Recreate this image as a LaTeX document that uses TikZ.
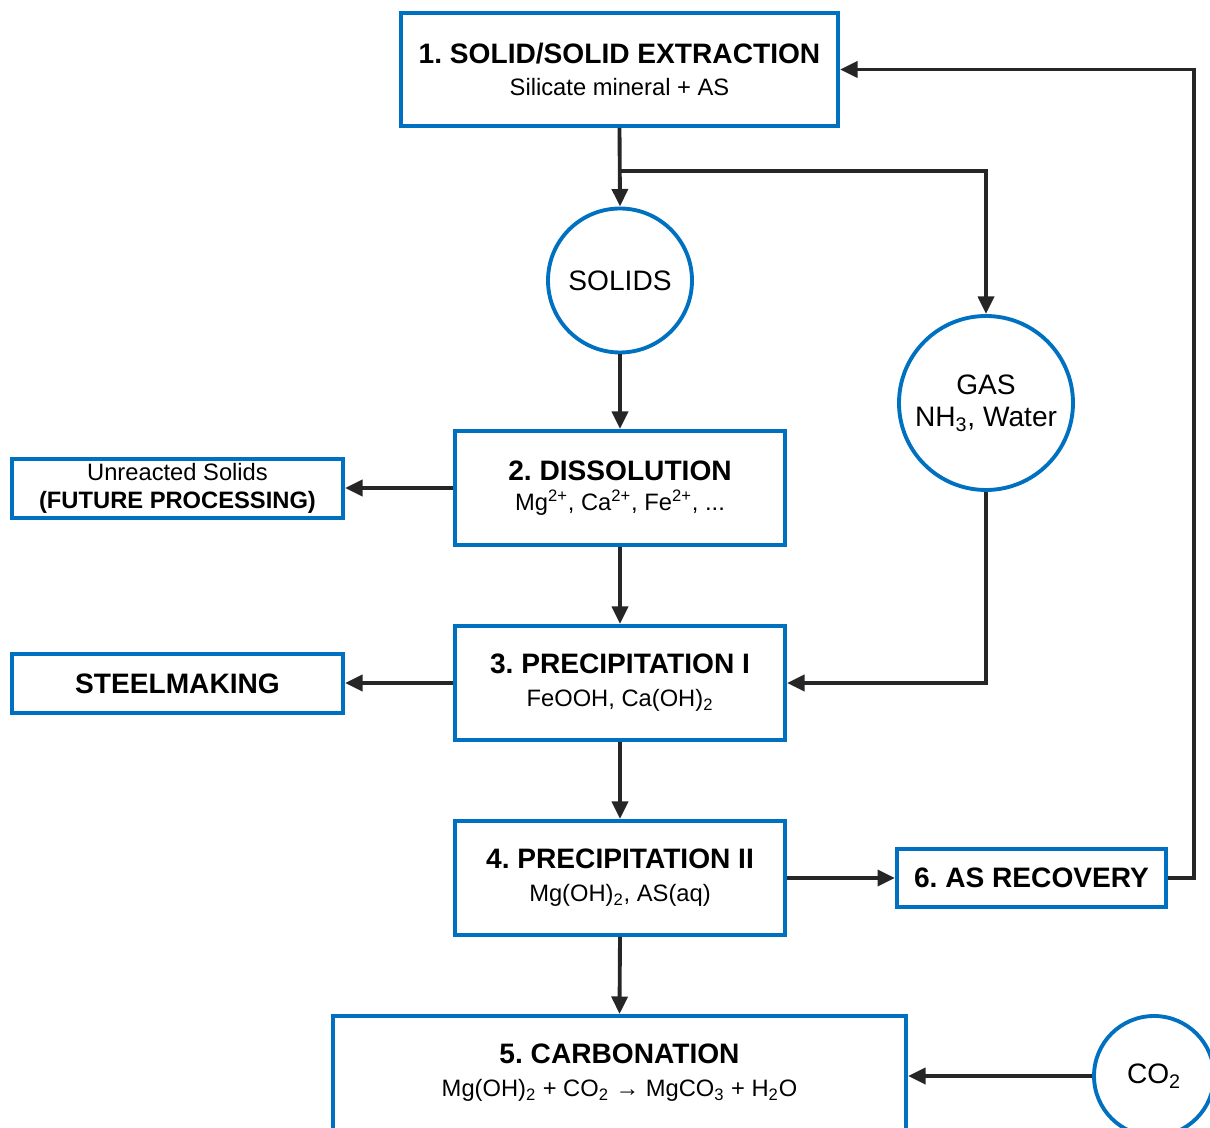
\documentclass[tikz,border=0pt]{standalone}
\usepackage{fontspec}
\setmainfont{Liberation Sans}
\usetikzlibrary{arrows.meta}
\frenchspacing

\newlength{\du}
\setlength{\du}{28.45\unitlength}
\definecolor{boxcolor}{rgb}{0.000000, 0.439000, 0.753000}
\definecolor{linecolor}{rgb}{0.150000, 0.150000, 0.150000}
\newcommand{\boxfont}{\fontsize{16}{18.7}\selectfont}
\newcommand{\subfont}{\fontsize{13.5}{18.7}\selectfont}
\newcommand{\smallboxfont}{\fontsize{13.5}{16}\selectfont}

\begin{document}
\begin{tikzpicture}[
  procbox/.style={draw=boxcolor, line width=2.2pt, fill=white, rectangle, align=center, inner sep=0pt, font=\boxfont},
  ringnode/.style={draw=boxcolor, line width=2.2pt, fill=white, circle, align=center, inner sep=0pt, font=\boxfont},
  flow/.style={draw=linecolor, line width=2.2pt, -{Triangle[length=10pt,width=9pt]}}
]
\pgftransformxscale{1.000000}
\pgftransformyscale{-1.000000}
\useasboundingbox (0\du,0\du) rectangle (24.20\du,22.56\du);
\clip (0\du,0\du) rectangle (24.20\du,22.56\du);
% process boxes
\node[procbox, minimum width=8.74\du, minimum height=2.26\du] (extract) at (12.39\du,1.39\du)
  {\textbf{1. SOLID/SOLID EXTRACTION}\\{\subfont Silicate mineral + AS}};
\node[procbox, minimum width=6.60\du, minimum height=2.28\du, font=\fontsize{16}{17}\selectfont] (dissolve) at (12.40\du,9.76\du)
  {\textbf{2. DISSOLUTION}\\{\subfont Mg\textsuperscript{2+}, Ca\textsuperscript{2+}, Fe\textsuperscript{2+}, ...}};
\node[procbox, minimum width=6.60\du, minimum height=2.28\du] (precipone) at (12.40\du,13.66\du)
  {\textbf{3. PRECIPITATION I}\\{\subfont FeOOH, Ca(OH)\textsubscript{2}}};
\node[procbox, minimum width=6.60\du, minimum height=2.28\du] (preciptwo) at (12.40\du,17.56\du)
  {\textbf{4. PRECIPITATION II}\\{\subfont Mg(OH)\textsubscript{2}, AS(aq)}};
\node[procbox, minimum width=11.46\du, minimum height=2.28\du] (carbon) at (12.39\du,21.46\du)
  {\textbf{5. CARBONATION}\\{\subfont Mg(OH)\textsubscript{2} + CO\textsubscript{2} → MgCO\textsubscript{3} + H\textsubscript{2}O}};
\node[procbox, minimum width=5.38\du, minimum height=1.16\du] (recover) at (20.63\du,17.56\du)
  {\textbf{6. AS RECOVERY}};
% side outputs
\node[procbox, minimum width=6.62\du, minimum height=1.18\du, font=\smallboxfont] (unreacted) at (3.55\du,9.77\du)
  {Unreacted Solids\\\textbf{(FUTURE PROCESSING)}};
\node[procbox, minimum width=6.62\du, minimum height=1.18\du] (steel) at (3.55\du,13.67\du)
  {\textbf{STEELMAKING}};
% streams
\node[ringnode, minimum size=2.88\du] (solids) at (12.40\du,5.61\du) {SOLIDS};
\node[ringnode, minimum size=3.48\du] (gas) at (19.72\du,8.06\du) {GAS\\NH\textsubscript{3}, Water};
\node[ringnode, minimum size=2.40\du] (co2) at (23.08\du,21.52\du) {CO\textsubscript{2}};
\coordinate (split) at (12.39\du,3.42\du);
% connectors
\draw[flow] (extract.south) -- (solids.north);
\draw[flow] (split) -| (gas.north);
\draw[flow] (solids.south) -- (dissolve.north);
\draw[flow] (dissolve.west) -- (dissolve.west -| unreacted.east);
\draw[flow] (dissolve.south) -- (precipone.north);
\draw[flow] (gas.south) |- (precipone.east);
\draw[flow] (precipone.west) -- (precipone.west -| steel.east);
\draw[flow] (precipone.south) -- (preciptwo.north);
\draw[flow] (preciptwo.east) -- (preciptwo.east -| recover.west);
\draw[flow] (preciptwo.south) -- (carbon.north);
\draw[flow] (recover.east) -- ++(0.52\du,0) |- (extract.east);
\draw[flow] (co2.west) -- (co2.west -| carbon.east);
\end{tikzpicture}
\end{document}
